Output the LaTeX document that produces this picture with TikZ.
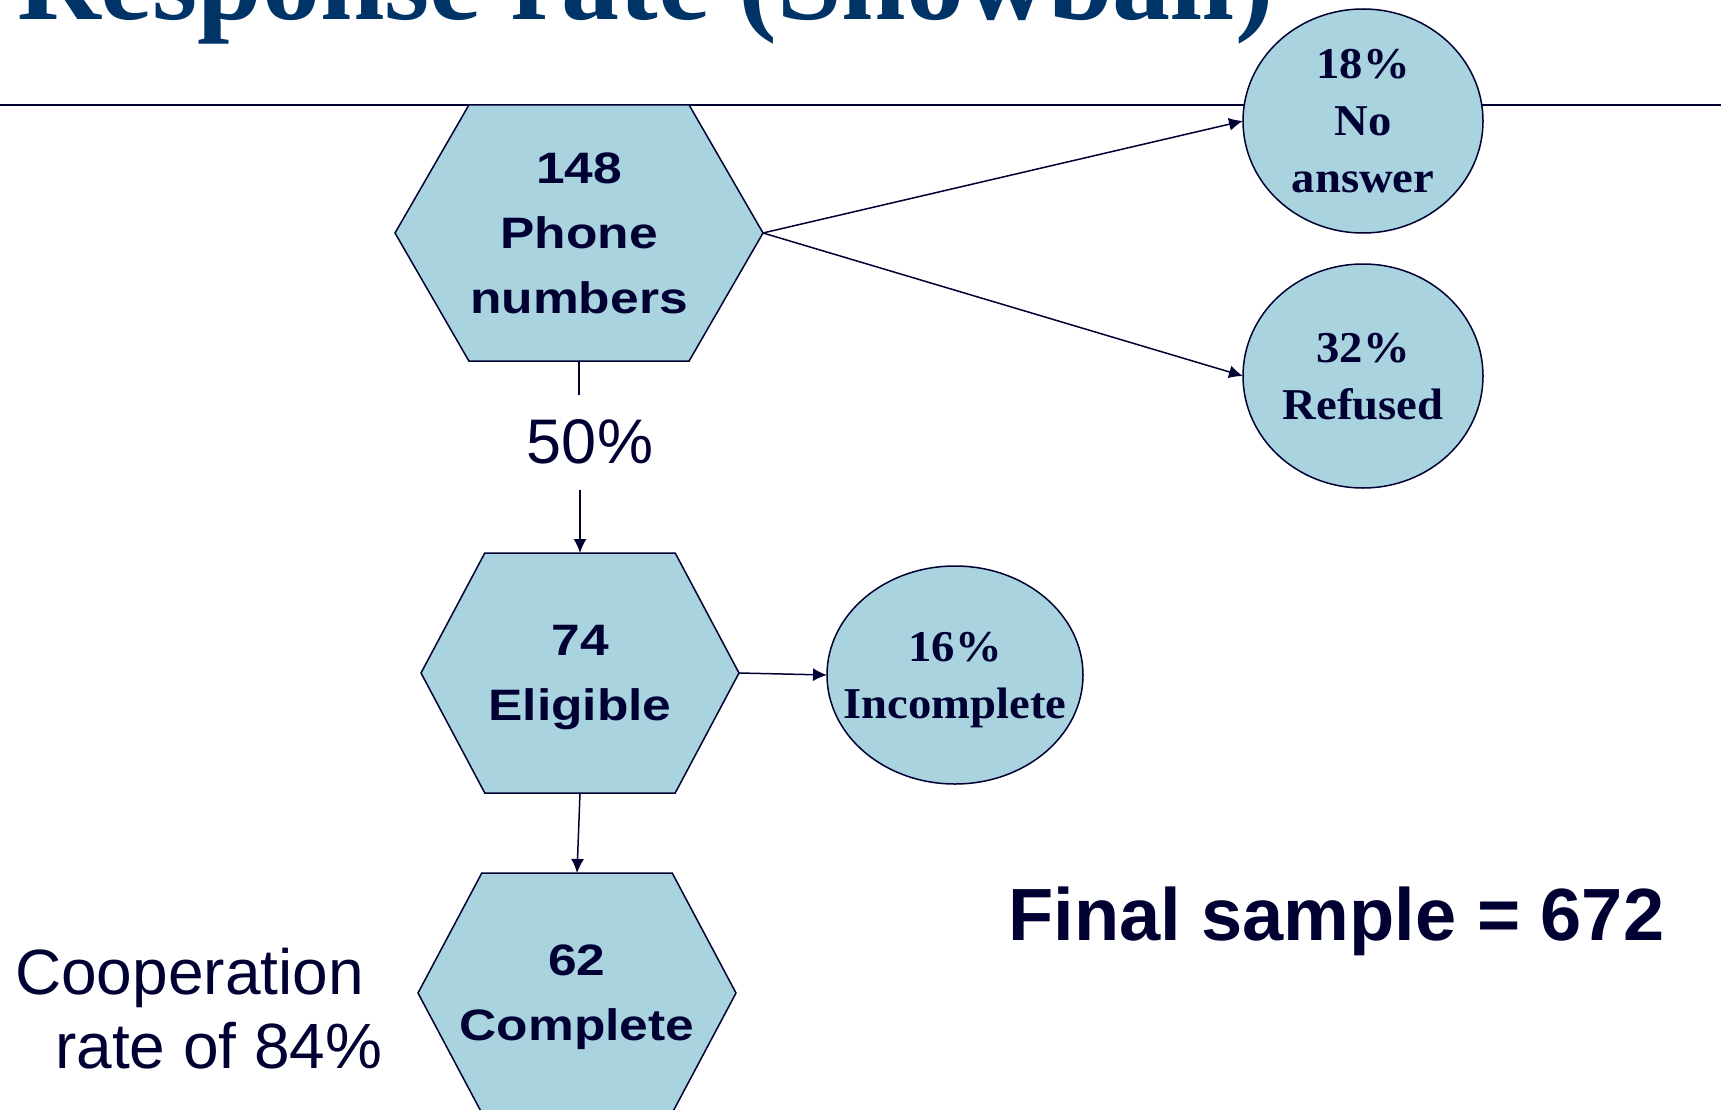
\documentclass[tikz,border=0pt]{standalone}
\usepackage{fontspec}
\setmainfont{Liberation Serif}
\setsansfont{Liberation Sans}
\newfontfamily\hexfont[FakeStretch=1.17]{Liberation Sans}
\newfontfamily\ovalfont[FakeStretch=1.06]{Liberation Serif}
\usepackage{tikz}
\usetikzlibrary{shapes, arrows.meta, positioning}
\definecolor{navy}{RGB}{0,0,51}
\definecolor{skyfill}{RGB}{168,211,223}
\definecolor{titleblue}{RGB}{0,51,102}
\tikzstyle{line} = [draw=navy, -{Latex[length=14pt,width=13pt]}, line width=1.5pt]

\begin{document}
\begin{tikzpicture}[x=1pt, y=-1pt]
  \tikzset{
    hexbox/.style={
      signal, signal to=east and west, signal from=nowhere,
      draw=navy, fill=skyfill, line width=1.5pt,
      text=navy,
      inner xsep=-25pt, inner ysep=0pt, outer sep=0pt,
      text depth=0pt,
      align=center,
      font=\hexfont\bfseries\fontsize{44}{65}\selectfont
    },
    oval/.style={
      ellipse,
      draw=navy, fill=skyfill, line width=1.5pt,
      text=navy,
      inner xsep=-30pt, inner ysep=0pt, outer sep=0pt,
      text depth=0pt,
      align=center,
      font=\ovalfont\bfseries\fontsize{44}{57}\selectfont
    }
  }

  \useasboundingbox (0,0) rectangle (1728,1110);

  \node[anchor=base west, inner sep=0pt, text=titleblue,
        font=\bfseries\fontsize{116}{120}\selectfont] (title) at (17,20) {Response rate (Snowball)};
  \draw[navy, line width=2.5pt] (0,105) -- (1721,105);

  \node[hexbox, minimum width=368, minimum height=256, signal pointer angle=120] (phones) at (579,233) {148\\Phone\\numbers};
  \node[hexbox, minimum width=318, minimum height=240, signal pointer angle=124] (eligible) at (580,673) {74\\Eligible};
  \node[hexbox, minimum width=318, minimum height=240, signal pointer angle=124] (complete) at (577,993) {62\\Complete};

  \node[oval, minimum width=240, minimum height=224] (noanswer) at (1363,121) {18\%\\No\\answer};
  \node[oval, minimum width=240, minimum height=224] (refused) at (1363,376) {32\%\\Refused};
  \node[oval, minimum width=256, minimum height=218] (incomplete) at (955,675) {16\%\\Incomplete};

  \node[inner xsep=0pt, inner ysep=25pt, text=navy,
        font=\sffamily\fontsize{63}{70}\selectfont] (pct) at (590,442) {50\%};

  \node[anchor=north west, inner sep=0pt, align=left, text=navy,
        font=\sffamily\fontsize{64}{74}\selectfont] (coop) at (15,948) {Cooperation\\\hspace*{40pt}rate of 84\%};
  \node[anchor=base west, inner sep=0pt, text=navy,
        font=\sffamily\bfseries\fontsize{74}{80}\selectfont] (final) at (1008,940) {Final sample = 672};

  % connectors
  \path[line] (phones.east) -- (noanswer.west);
  \path[line] (phones.east) -- (refused.west);
  \draw[navy, line width=1.5pt] (phones.south) -- (phones.south |- pct.north);
  \path[line] (eligible.north |- pct.south) -- (eligible.north);
  \path[line] (eligible.east) -- (incomplete.west);
  \path[line] (eligible.south) -- (complete.north);
\end{tikzpicture}
\end{document}
